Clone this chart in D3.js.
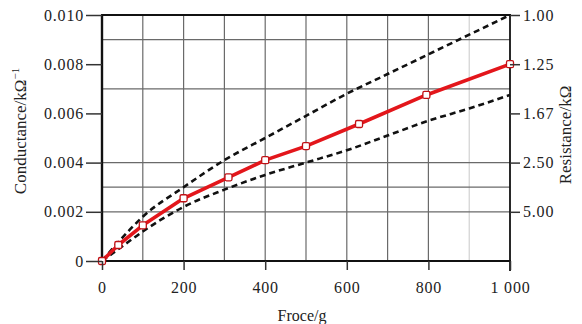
<!DOCTYPE html>
<html><head><meta charset="utf-8">
<script src="https://cdn.jsdelivr.net/npm/d3@7/dist/d3.min.js"></script>
<style>
html,body{margin:0;padding:0;background:#fff;}
svg{display:block;font-family:"Liberation Serif","Times New Roman",serif;}
</style></head>
<body><svg id="c" width="582" height="324"></svg>
<script>
// ---- data ----
const forceMeasured = [0, 40, 100, 200, 310, 400, 500, 630, 795, 1000];
const conductanceMeasured = [0, 0.00065, 0.00145, 0.00255, 0.0034, 0.0041, 0.00467, 0.00557, 0.00675, 0.0080];
const forceBound = [0, 50, 100, 200, 300, 400, 500, 600, 700, 800, 900, 1000];
const conductanceUpper = [0, 0.00095, 0.0018, 0.0030, 0.0041, 0.0050, 0.0059, 0.0068, 0.0076, 0.0084, 0.0092, 0.0100];
const conductanceLower = [0, 0.0006, 0.0012, 0.0022, 0.0029, 0.0035, 0.0040, 0.0045, 0.0051, 0.0057, 0.0062, 0.00675];
const xTicks = [0, 200, 400, 600, 800, 1000];
const xTickLabels = ["0", "200", "400", "600", "800", "1 000"];
const yTicks = [0, 0.002, 0.004, 0.006, 0.008, 0.010];
const yTickLabels = ["0", "0.002", "0.004", "0.006", "0.008", "0.010"];
const rTicks = [0.010, 0.008, 0.006, 0.004, 0.002];
const rTickLabels = ["1.00", "1.25", "1.67", "2.50", "5.00"];
const gridX = [100, 200, 300, 400, 500, 600, 700, 800];
const gridXFaint = [900];
const gridY = [0.002, 0.003, 0.004, 0.007, 0.009];

const svg = d3.select("#c");
const x = d3.scaleLinear().domain([0, 1000]).range([102, 510]);
const y = d3.scaleLinear().domain([0, 0.010]).range([261, 15]);

// grid
const g = svg.append("g");
g.selectAll(".gx").data(gridX).join("line")
  .attr("x1", d => x(d)).attr("x2", d => x(d)).attr("y1", y(0.010)).attr("y2", y(0))
  .attr("stroke", "#6a6a6a").attr("stroke-width", 1.2);
g.selectAll(".gxf").data(gridXFaint).join("line")
  .attr("x1", d => x(d)).attr("x2", d => x(d)).attr("y1", y(0.010)).attr("y2", y(0))
  .attr("stroke", "#c8c8c8").attr("stroke-width", 1);
g.selectAll(".gy").data(gridY).join("line")
  .attr("x1", x(0)).attr("x2", x(1000)).attr("y1", d => y(d)).attr("y2", d => y(d))
  .attr("stroke", "#6a6a6a").attr("stroke-width", 1.2);

// dashed bounds
const line = d3.line().x(d => x(d[0])).y(d => y(d[1]));
const smooth = d3.line().x(d => x(d[0])).y(d => y(d[1])).curve(d3.curveMonotoneX);
[conductanceUpper, conductanceLower].forEach(arr => {
  svg.append("path").datum(forceBound.map((f, i) => [f, arr[i]]))
    .attr("d", smooth).attr("fill", "none").attr("stroke", "#111")
    .attr("stroke-width", 2.6).attr("stroke-dasharray", "6,4");
});

// measured
const meas = forceMeasured.map((f, i) => [f, conductanceMeasured[i]]);
svg.append("path").datum(meas).attr("d", line).attr("fill", "none")
  .attr("stroke", "#e3161b").attr("stroke-width", 3.6).attr("stroke-linejoin", "round");

// axes frame
const axisStroke = "#111";
svg.append("line").attr("x1", x(0)).attr("x2", x(0)).attr("y1", y(0.010)).attr("y2", y(0))
  .attr("stroke", axisStroke).attr("stroke-width", 2.4);
svg.append("line").attr("x1", x(1000)).attr("x2", x(1000)).attr("y1", y(0.010)).attr("y2", y(0) + 10)
  .attr("stroke", axisStroke).attr("stroke-width", 1.8);
svg.append("line").attr("x1", x(0) - 1).attr("x2", x(1000) + 1).attr("y1", y(0.010)).attr("y2", y(0.010))
  .attr("stroke", axisStroke).attr("stroke-width", 2);
svg.append("line").attr("x1", x(0) - 1).attr("x2", x(1000) + 1).attr("y1", y(0)).attr("y2", y(0))
  .attr("stroke", axisStroke).attr("stroke-width", 2);

// markers
svg.selectAll(".mk").data(meas).join("rect")
  .attr("x", d => x(d[0]) - 3.5).attr("y", d => y(d[1]) - 3.5)
  .attr("width", 7).attr("height", 7).attr("rx", 1.5)
  .attr("fill", "#fff").attr("stroke", "#c01015").attr("stroke-width", 1.3);

// left axis
const la = svg.append("g").attr("transform", `translate(${x(0)},0)`)
  .call(d3.axisLeft(y).tickValues(yTicks).tickSize(16).tickPadding(2)
    .tickFormat((d, i) => yTickLabels[i]));
la.select(".domain").remove();
la.selectAll(".tick line").attr("stroke", "#333").attr("stroke-width", 1.5);
la.selectAll(".tick text").attr("font-size", 16).attr("fill", "#222")
  .attr("font-family", "Liberation Serif").attr("letter-spacing", 0.8);

// bottom axis
const ba = svg.append("g").attr("transform", `translate(0,${y(0)})`)
  .call(d3.axisBottom(x).tickValues(xTicks).tickSize(9).tickPadding(12)
    .tickFormat((d, i) => xTickLabels[i]));
ba.select(".domain").remove();
ba.selectAll(".tick line").attr("stroke", "#333").attr("stroke-width", 1.5);
ba.selectAll(".tick text").attr("font-size", 16).attr("fill", "#222")
  .attr("font-family", "Liberation Serif").attr("letter-spacing", 0.8);

// right axis
const ra = svg.append("g").attr("transform", `translate(${x(1000)},0)`)
  .call(d3.axisRight(y).tickValues(rTicks).tickSize(10).tickPadding(3)
    .tickFormat((d, i) => rTickLabels[i]));
ra.select(".domain").remove();
ra.selectAll(".tick line").attr("stroke", "#333").attr("stroke-width", 1.5);
ra.selectAll(".tick text").attr("font-size", 16).attr("fill", "#222")
  .attr("font-family", "Liberation Serif").attr("letter-spacing", 0.8);

// titles
svg.append("text").attr("x", 302).attr("y", 321).attr("text-anchor", "middle")
  .attr("font-size", 16).attr("fill", "#222").text("Froce/g");
const lt = svg.append("text").attr("transform", "translate(26,131) rotate(-90)")
  .attr("text-anchor", "middle").attr("font-size", 17).attr("fill", "#222");
lt.append("tspan").text("Conductance/kΩ");
lt.append("tspan").attr("font-size", 11).attr("dy", -7).text("−1");
svg.append("text").attr("transform", "translate(571,135) rotate(-90)")
  .attr("text-anchor", "middle").attr("font-size", 17).attr("fill", "#222")
  .text("Resistance/kΩ");
</script></body></html>
